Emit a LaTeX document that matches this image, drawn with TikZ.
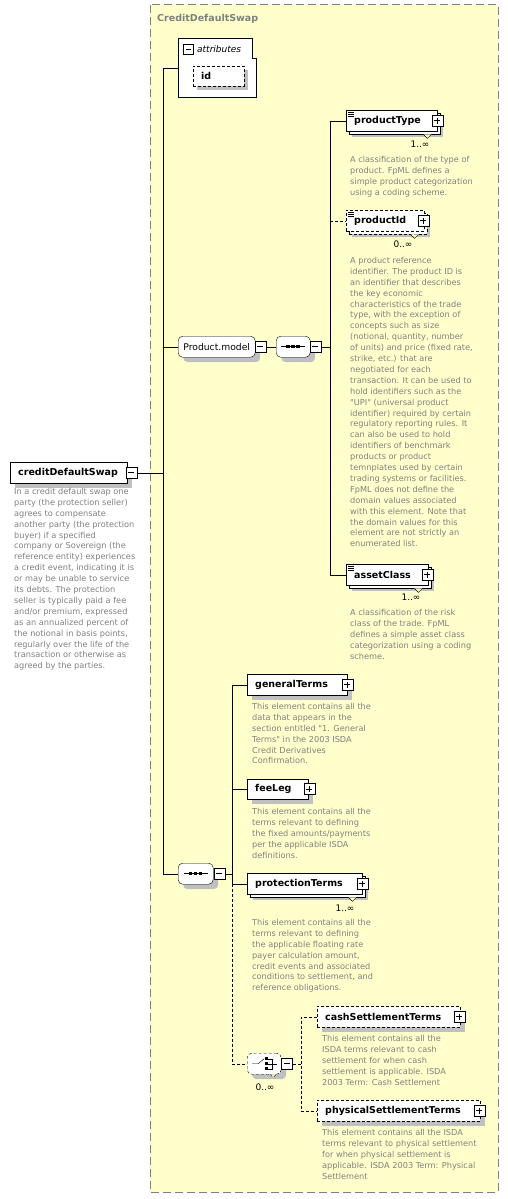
\documentclass[tikz,border=0pt]{standalone}
\usepackage{fontspec}
\usetikzlibrary{shadows,calc}
\newfontfamily\diafont{DejaVu Sans}
\definecolor{boxyellow}{RGB}{255,255,204}
\definecolor{descgray}{RGB}{128,128,128}
\definecolor{shadowgray}{RGB}{192,192,192}
\definecolor{framegray}{RGB}{128,128,128}
\newcommand{\descfont}{\diafont\fontsize{8.2}{10.9}\selectfont}
\newcommand{\namefont}{\diafont\bfseries\fontsize{9.5}{11}\selectfont}

\begin{document}
\begin{tikzpicture}[x=1pt, y=-1pt,
  eltbox/.style={draw, fill=white, anchor=north west, minimum height=21pt, inner xsep=8pt, inner ysep=0pt, align=left, font=\namefont},
  single/.style={drop shadow={shadow xshift=5pt, shadow yshift=-5pt, fill=shadowgray, opacity=1}},
  multi/.style={drop shadow={shadow xshift=6pt, shadow yshift=-6pt, fill=shadowgray, opacity=1}, copy shadow={shadow xshift=3pt, shadow yshift=-3pt, draw=black, fill=white}},
  group/.style={draw, fill=white, rounded corners=4.5pt, anchor=north west, minimum height=21pt, inner sep=0pt, font=\diafont\fontsize{9.2}{11}\selectfont, single},
  btnminus/.style={draw, fill=white, minimum size=11pt, inner sep=0pt, line width=0.8pt,
    path picture={\draw ([xshift=2.5pt]path picture bounding box.west) -- ([xshift=-2.5pt]path picture bounding box.east);}},
  btnplus/.style={draw, fill=white, minimum size=11pt, inner sep=0pt, line width=0.8pt,
    path picture={\draw ([xshift=2.5pt]path picture bounding box.west) -- ([xshift=-2.5pt]path picture bounding box.east)
      ([yshift=-2.5pt]path picture bounding box.north) -- ([yshift=2.5pt]path picture bounding box.south);}},
  desc/.style={anchor=north west, inner sep=0pt, align=left, font=\descfont, text=descgray},
  card/.style={inner sep=0pt, font=\diafont\fontsize{9}{10}\selectfont},
  opt/.style={dashed, dash pattern=on 3pt off 2pt}
]
\useasboundingbox (0,0) rectangle (508,1199);
% Type frame
\draw[framegray, fill=boxyellow, line width=1pt, dash pattern=on 8pt off 4pt] (150,5) rectangle (498,1192);
\node[anchor=west, inner sep=0pt, font=\namefont, text=framegray] (title) at (157,19) {CreditDefaultSwap};

% Root element
\node[eltbox, single, text width=101pt] (cds) at (10,462) {creditDefaultSwap};
\node[btnminus] (cdsbtn) at ([xshift=4pt]cds.east) {};
\node[desc] (cdsdesc) at (14,488) {In a credit default swap one\\party (the protection seller)\\agrees to compensate\\another party (the protection\\buyer) if a specified\\company or Sovereign (the\\reference entity) experiences\\a credit event, indicating it is\\or may be unable to service\\its debts. The protection\\seller is typically paid a fee\\and/or premium, expressed\\as an annualized percent of\\the notional in basis points,\\regularly over the life of the\\transaction or otherwise as\\agreed by the parties.};

% Attributes
\draw[fill=white] (178,38) -- (252,38) -- (252,58) -- (256,58) -- (256,97) -- (178,97) -- cycle;
\coordinate (attrw) at (178,68);
\node[btnminus, minimum size=10pt] (attrbtn) at (188.5,49.5) {};
\node[anchor=west, inner sep=0pt, font=\diafont\itshape\fontsize{9}{10}\selectfont] (attrlbl) at (197,49) {attributes};
\node[eltbox, opt, minimum height=20pt, drop shadow={shadow xshift=4pt, shadow yshift=-4pt, fill=shadowgray, opacity=1}, text width=35pt] (id) at (193,66) {id};

% Product.model branch
\node[group, minimum width=77pt] (pmodel) at (178,336) {Product.model};
\node[btnminus] (pmbtn) at ([xshift=5pt]pmodel.east) {};
\node[group, minimum width=34pt] (seqA) at (276,336) {};
\node[btnminus] (seqAbtn) at ([xshift=5pt]seqA.east) {};
\draw[line width=1pt] ([xshift=-12pt]seqA.center) -- ([xshift=12pt]seqA.center);
\foreach \d in {-5,0,5}
  \fill ([shift={(\d-1.75,-1.75)}]seqA.center) rectangle ++(3.5,3.5);

\node[eltbox, multi, text width=75pt] (ptype) at (346,110) {productType};
\node[btnplus] (ptbtn) at ([xshift=0pt]ptype.east) {};
\node[card] (ptcard) at (420,144) {1..∞};
\node[desc] (ptdesc) at (350,156) {A classification of the type of\\product. FpML defines a\\simple product categorization\\using a coding scheme.};

\node[eltbox, opt, multi, text width=62pt, copy shadow={shadow xshift=3pt, shadow yshift=-3pt, draw=black, fill=white, opt}] (pid) at (346,210) {productId};
\node[btnplus] (pidbtn) at ([xshift=-1pt]pid.east) {};
\node[card] (pidcard) at (403,244) {0..∞};
\node[desc] (piddesc) at (350,257) {A product reference\\identifier. The product ID is\\an identifier that describes\\the key economic\\characteristics of the trade\\type, with the exception of\\concepts such as size\\(notional, quantity, number\\of units) and price (fixed rate,\\strike, etc.) that are\\negotiated for each\\transaction. It can be used to\\hold identifiers such as the\\"UPI" (universal product\\identifier) required by certain\\regulatory reporting rules. It\\can also be used to hold\\identifiers of benchmark\\products or product\\temnplates used by certain\\trading systems or facilities.\\FpML does not define the\\domain values associated\\with this element. Note that\\the domain values for this\\element are not strictly an\\enumerated list.};

\node[eltbox, multi, text width=66pt] (aclass) at (346,564) {assetClass};
\node[btnplus] (acbtn) at ([xshift=-1pt]aclass.east) {};
\node[card] (accard) at (411,597) {1..∞};
\node[desc] (acdesc) at (350,609) {A classification of the risk\\class of the trade. FpML\\defines a simple asset class\\categorization using a coding\\scheme.};

% Simple content marks and notches
\foreach \n in {ptype,pid,aclass}{
  \foreach \k in {2,4,6}
    \draw[line width=0.6pt] ([shift={(2,\k)}]\n.north west) -- ++(6,0);
  \draw[fill=boxyellow] ([shift={(-14,3)}]\n.south east) -- ++(4,4) -- ++(4,-4);
}

% Terms branch
\node[group, minimum width=35pt] (seqB) at (178,863) {};
\node[btnminus] (seqBbtn) at ([xshift=6pt]seqB.east) {};
\draw[line width=1pt] ([xshift=-12pt]seqB.center) -- ([xshift=12pt]seqB.center);
\foreach \d in {-5,0,5}
  \fill ([shift={(\d-1.75,-1.75)}]seqB.center) rectangle ++(3.5,3.5);

\node[eltbox, single, text width=84pt] (gterms) at (247,674) {generalTerms};
\node[btnplus] (gtbtn) at (gterms.east) {};
\node[desc] (gtdesc) at (252,703) {This element contains all the\\data that appears in the\\section entitled "1. General\\Terms" in the 2003 ISDA\\Credit Derivatives\\Confirmation.};

\node[eltbox, single, minimum height=20pt, text width=45pt] (feeleg) at (247,779) {feeLeg};
\node[btnplus] (flbtn) at ([xshift=1pt]feeleg.east) {};
\node[desc] (fldesc) at (252,808) {This element contains all the\\terms relevant to defining\\the fixed amounts/payments\\per the applicable ISDA\\definitions.};

\node[eltbox, multi, text width=99pt] (pterms) at (247,873) {protectionTerms};
\node[btnplus] (prbtn) at (pterms.east) {};
\node[card] (prcard) at (345,908) {1..∞};
\node[desc] (prdesc) at (252,919) {This element contains all the\\terms relevant to defining\\the applicable floating rate\\payer calculation amount,\\credit events and associated\\conditions to settlement, and\\reference obligations.};
\draw[fill=boxyellow] ([shift={(-14,3)}]pterms.south east) -- ++(4,4) -- ++(4,-4);

% Choice
\node[group, opt, minimum width=34pt] (choice) at (247,1053) {};
\node[btnminus] (chbtn) at ([xshift=5.5pt]choice.east) {};
\node[card] (chcard) at (265,1087) {0..∞};
\draw[fill=boxyellow, opt] ([shift={(6,0)}]choice.south) -- ++(3,3) -- ++(3,-3);
\draw ([xshift=-12pt]choice.center) -- ++(6,0) -- ++(6,-5);
\foreach \d in {-5,0,5}
  \fill ([shift={(1,\d-1.25)}]choice.center) rectangle ++(2.5,2.5);
\draw ([shift={(3.5,-5)}]choice.center) -- ++(4,0) -- ++(0,10) -- ++(-4,0);
\draw ([shift={(3.5,0)}]choice.center) -- ++(9,0);

\node[eltbox, opt, single, text width=127pt] (cash) at (317,1006) {cashSettlementTerms};
\node[btnplus] (cashbtn) at ([xshift=-1pt]cash.east) {};
\node[desc] (cashdesc) at (322,1035) {This element contains all the\\ISDA terms relevant to cash\\settlement for when cash\\settlement is applicable. ISDA\\2003 Term: Cash Settlement};

\node[eltbox, opt, single, text width=147pt] (phys) at (317,1100) {physicalSettlementTerms};
\node[btnplus] (physbtn) at ([xshift=-1pt]phys.east) {};
\node[desc] (physdesc) at (322,1129) {This element contains all the ISDA\\terms relevant to physical settlement\\for when physical settlement is\\applicable. ISDA 2003 Term: Physical\\Settlement};

% Connectors
\coordinate (spA) at (163,0);
\coordinate (spB) at (330,0);
\coordinate (spC) at (232,0);
\coordinate (spD) at (301,0);
\draw (attrw) -- (attrw -| spA) |- (seqB.west);
\draw (cdsbtn.east) -- (cdsbtn.east -| spA);
\draw (pmodel.west -| spA) -- (pmodel.west);
\draw (pmbtn.east) -- (seqA.west);
\draw (seqAbtn.east) -- (seqAbtn.east -| spB);
\draw (ptype.west) -| (aclass.west -| spB) -- (aclass.west);
\draw[opt] (pid.west -| spB) -- (pid.west);
\draw (seqBbtn.east) -- (seqBbtn.east -| spC);
\draw (gterms.west) -| (pterms.west -| spC) -- (pterms.west);
\draw (feeleg.west -| spC) -- (feeleg.west);
\draw[opt] (pterms.west -| spC) |- (choice.west);
\draw[opt] (chbtn.east) -- (chbtn.east -| spD);
\draw[opt] (cash.west) -| (phys.west -| spD) -- (phys.west);
\end{tikzpicture}
\end{document}
